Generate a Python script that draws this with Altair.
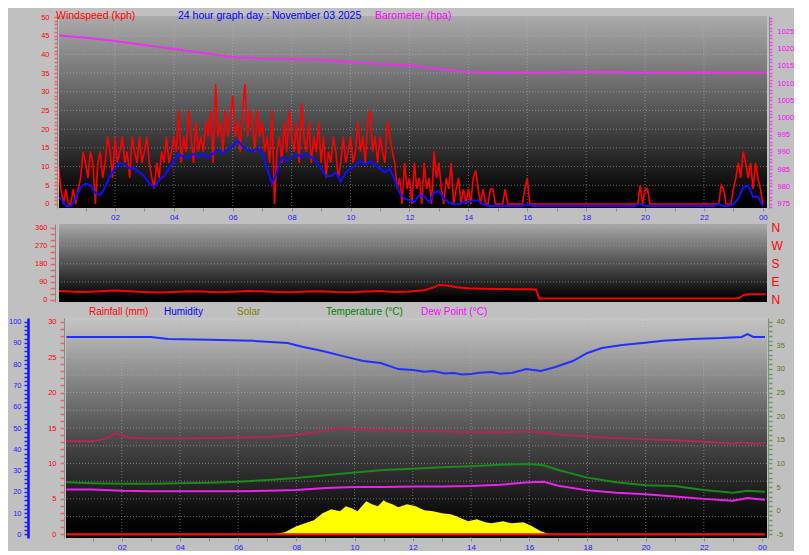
import altair as alt
import pandas as pd

FONT = "Liberation Sans"

# ---------------- data ----------------
# Wind gust (kph), 5-minute readings, one list per hour
gust_h00 = [14, 10, 4, 0, 4, 0, 0, 4, 0, 4, 7, 14]
gust_h01 = [11, 7, 14, 11, 0, 11, 14, 7, 11, 18, 14, 7]
gust_h02 = [18, 11, 14, 18, 11, 14, 7, 18, 14, 11, 18, 11]
gust_h03 = [14, 18, 11, 7, 4, 11, 7, 14, 11, 18, 11, 14]
gust_h04 = [18, 14, 25, 11, 18, 14, 25, 18, 11, 22, 14, 18]
gust_h05 = [14, 22, 18, 25, 11, 32, 18, 22, 14, 25, 18, 22]
gust_h06 = [29, 18, 22, 14, 25, 32, 18, 25, 22, 14, 25, 18]
gust_h07 = [22, 14, 18, 11, 25, 0, 14, 18, 11, 22, 14, 25]
gust_h08 = [18, 14, 22, 11, 27, 18, 14, 22, 11, 18, 14, 22]
gust_h09 = [11, 18, 7, 14, 11, 18, 14, 7, 11, 18, 11, 14]
gust_h10 = [18, 11, 14, 22, 14, 18, 11, 22, 25, 14, 18, 11]
gust_h11 = [18, 14, 11, 22, 18, 14, 11, 4, 7, 0, 11, 4]
gust_h12 = [7, 0, 11, 4, 7, 0, 11, 4, 7, 0, 14, 7]
gust_h13 = [11, 4, 0, 7, 4, 11, 0, 4, 7, 0, 4, 0]
gust_h14 = [4, 0, 7, 9, 4, 0, 4, 0, 0, 4, 4, 0]
gust_h15 = [0, 0, 0, 4, 0, 0, 0, 0, 0, 0, 0, 4]
gust_h16 = [7, 0, 0, 0, 0, 0, 0, 0, 0, 0, 0, 0]
gust_h17 = [0, 0, 0, 0, 0, 0, 0, 0, 0, 0, 0, 0]
gust_h18 = [0, 0, 0, 0, 0, 0, 0, 0, 0, 0, 0, 0]
gust_h19 = [0, 0, 0, 0, 0, 0, 0, 0, 0, 0, 5, 0]
gust_h20 = [4, 4, 0, 0, 0, 0, 0, 0, 0, 0, 0, 0]
gust_h21 = [0, 0, 0, 0, 0, 0, 0, 0, 0, 0, 0, 0]
gust_h22 = [0, 0, 0, 0, 0, 0, 0, 5, 4, 0, 0, 0]
gust_h23 = [4, 7, 11, 7, 14, 11, 7, 11, 4, 11, 7, 4]
gust_end = [0]

# Average wind speed (kph), 10-minute readings, one list per hour
avg_h00 = [2.5, 2, 0, 0, 2, 5]
avg_h01 = [6, 5.5, 3.5, 2.8, 5, 8]
avg_h02 = [10, 11.5, 11, 10, 10, 9]
avg_h03 = [8, 6, 5, 7, 8, 10]
avg_h04 = [12, 14, 13, 13, 14, 13]
avg_h05 = [14, 13, 14, 15, 14, 15]
avg_h06 = [16, 17.5, 16, 15, 14.5, 15.5]
avg_h07 = [14, 10, 6, 9, 13, 12]
avg_h08 = [13, 14, 13, 14, 13, 12]
avg_h09 = [10, 8, 8, 9, 6.5, 9]
avg_h10 = [10, 11, 12, 11, 12, 11]
avg_h11 = [10, 9, 10, 7, 3.5, 2]
avg_h12 = [1.5, 1, 3, 2.5, 1, 3.5]
avg_h13 = [4, 2, 1, 0.5, 0.5, 1]
avg_h14 = [1, 1.5, 1.5, 0.5, 0, 0]
avg_h15 = [0, 0, 0, 0, 0, 0]
avg_h16 = [0.5, 0, 0, 0, 0, 0]
avg_h17 = [0, 0, 0, 0, 0, 0]
avg_h18 = [0, 0, 0, 0, 0, 0]
avg_h19 = [0, 0, 0, 0, 0, 0.5]
avg_h20 = [0, 0, 0, 0, 0, 0]
avg_h21 = [0, 0, 0, 0, 0, 0]
avg_h22 = [0, 0, 0, 0.5, 0, 0]
avg_h23 = [0.5, 2, 5, 5.5, 2.5, 2.5]
avg_end = [0]

# Barometer (hPa)
baro_hours = [0.1, 1, 2, 3, 4, 5, 6, 7, 8, 9, 10, 11, 12, 12.5, 13, 13.5, 14, 15, 16, 17, 18, 19, 20, 21, 22, 23, 24.1]
baro_vals = [1023.8, 1023.1, 1022.2, 1021.0, 1019.9, 1018.7, 1017.5, 1017.1, 1017.0, 1016.7, 1016.1, 1015.5,
             1015.1, 1014.6, 1014.1, 1013.6, 1013.2, 1013.0, 1013.0, 1013.1, 1013.3, 1013.2, 1013.0, 1013.0,
             1013.1, 1013.0, 1013.0]

# Wind direction (degrees)
dir_hours = [0.1, 0.5, 1, 1.5, 2, 2.5, 3, 3.5, 4, 4.5, 5, 5.5, 6, 6.5, 7, 7.5, 8, 8.5, 9, 9.5, 10, 10.5, 11,
             11.5, 12, 12.5, 12.8, 13.0, 13.3, 13.6, 14, 14.5, 15, 15.5, 16, 16.3, 16.4, 17, 18, 19, 20, 21,
             22, 23, 23.2, 23.35, 23.5, 24.1]
dir_vals = [45, 42, 40, 43, 47, 44, 40, 37, 40, 44, 42, 38, 41, 45, 43, 40, 38, 42, 44, 40, 38, 42, 45,
            40, 42, 48, 62, 75, 72, 64, 58, 56, 55, 54, 53, 52, 8, 8, 7, 8, 8, 7, 8, 8, 10, 25, 28, 28]

# Humidity (%)
hum_hours = [0.1, 1, 2, 3, 3.6, 5, 6.5, 7.7, 8.2, 8.9, 9.6, 10.3, 10.9, 11.5, 12.0, 12.4, 12.7, 13.1, 13.4,
             13.7, 14.0, 14.3, 14.7, 15.0, 15.4, 15.9, 16.4, 16.9, 17.5, 18.0, 18.5, 19.2, 19.9, 20.6, 21.6,
             22.6, 23.3, 23.5, 23.7, 24.1]
hum_vals = [92.8, 92.8, 92.8, 92.8, 91.9, 91.5, 91.0, 90.0, 88.2, 86.2, 83.8, 81.5, 80.6, 77.7, 77.3, 76.5,
            76.8, 75.6, 75.9, 75.2, 75.4, 76.0, 76.3, 75.5, 75.9, 77.7, 76.8, 78.7, 81.5, 85.3, 87.6, 89.0,
            90.0, 91.0, 91.9, 92.3, 92.8, 94.2, 92.8, 92.8]

# Temperature, dew point and the extra (maroon) series (°C)
t_hours = [0.1, 1, 2, 3, 4, 5, 6, 7, 8, 9, 10, 11, 12, 13, 14, 15, 16, 16.5, 17, 18, 19, 20, 21, 22, 23, 23.5, 24.1]
temp_vals = [6.0, 5.8, 5.7, 5.7, 5.8, 5.9, 6.1, 6.5, 6.9, 7.5, 8.1, 8.6, 8.9, 9.2, 9.4, 9.7, 9.9, 9.6, 8.6,
             7.0, 6.0, 5.4, 5.2, 4.4, 3.8, 4.2, 4.0]
dew_vals = [4.5, 4.5, 4.2, 4.1, 4.1, 4.1, 4.1, 4.2, 4.4, 4.8, 5.0, 5.0, 5.1, 5.1, 5.2, 5.5, 6.0, 6.1, 5.3,
            4.3, 3.8, 3.5, 3.0, 2.5, 2.1, 2.7, 2.3]
maroon_hours = [0.1, 1, 1.5, 1.8, 2.2, 3, 4, 5, 6, 7, 8, 9, 9.5, 10, 11, 12, 13, 14, 15, 16, 17, 18, 19, 20,
                21, 22, 23, 23.3, 23.6, 24.1]
maroon_vals = [14.7, 14.7, 15.3, 16.4, 15.5, 15.3, 15.3, 15.4, 15.5, 15.6, 16.0, 16.9, 17.5, 17.3, 17.1, 16.9,
               16.8, 16.6, 16.6, 16.8, 16.1, 15.7, 15.4, 15.1, 14.9, 14.6, 14.2, 14.5, 14.2, 14.3]

# Solar (W/m²)
solar_hours = [0.1, 7.2, 7.6, 8.0, 8.3, 8.6, 8.9, 9.2, 9.5, 9.7, 9.9, 10.1, 10.4, 10.6, 10.8, 11.0, 11.1,
               11.3, 11.5, 11.8, 12.1, 12.4, 12.7, 13.0, 13.3, 13.5, 13.9, 14.2, 14.5, 14.7, 15.1, 15.4,
               15.8, 16.1, 16.4, 16.7, 24.1]
solar_vals = [0, 0, 10, 40, 55, 70, 105, 125, 115, 140, 130, 115, 165, 150, 140, 170, 160, 150, 135, 150,
              140, 120, 115, 105, 100, 90, 65, 75, 60, 55, 65, 55, 60, 40, 15, 0, 0]

# Rainfall (mm)
rain_hours = [0.1, 24.1]
rain_vals = [0, 0]

# Axis labels / grid values
hour_ticks = list(range(1, 25))
even_hours = list(range(2, 24, 2))
wind_ticks = list(range(0, 51))
baro_ticks = list(range(974, 1030))
dir_ticks = list(range(0, 361, 30))
compass_ticks = [0, 90, 180, 270, 360]
rain_ticks = list(range(0, 31))
hum_ticks = list(range(0, 101, 2))
temp_ticks = list(range(-5, 41))

# ---------------- build tables ----------------
gust_all = (gust_h00 + gust_h01 + gust_h02 + gust_h03 + gust_h04 + gust_h05 + gust_h06 + gust_h07 +
            gust_h08 + gust_h09 + gust_h10 + gust_h11 + gust_h12 + gust_h13 + gust_h14 + gust_h15 +
            gust_h16 + gust_h17 + gust_h18 + gust_h19 + gust_h20 + gust_h21 + gust_h22 + gust_h23 + gust_end)
avg_all = (avg_h00 + avg_h01 + avg_h02 + avg_h03 + avg_h04 + avg_h05 + avg_h06 + avg_h07 + avg_h08 +
           avg_h09 + avg_h10 + avg_h11 + avg_h12 + avg_h13 + avg_h14 + avg_h15 + avg_h16 + avg_h17 +
           avg_h18 + avg_h19 + avg_h20 + avg_h21 + avg_h22 + avg_h23 + avg_end)
gust_df = pd.DataFrame({"h": [i * 5 / 60 for i in range(len(gust_all))], "v": gust_all})
avg_df = pd.DataFrame({"h": [i * 10 / 60 for i in range(len(avg_all))], "v": avg_all})
baro_df = pd.DataFrame({"h": baro_hours, "v": baro_vals})
dir_df = pd.DataFrame({"h": dir_hours, "v": dir_vals})
hum_df = pd.DataFrame({"h": hum_hours, "v": hum_vals})
temp_df = pd.DataFrame({"h": t_hours, "v": temp_vals})
dew_df = pd.DataFrame({"h": t_hours, "v": dew_vals})
maroon_df = pd.DataFrame({"h": maroon_hours, "v": maroon_vals})
solar_df = pd.DataFrame({"h": solar_hours, "v": solar_vals})
rain_df = pd.DataFrame({"h": rain_hours, "v": rain_vals})
one = pd.DataFrame({"a": [0]})

W = 708
H_TOP, H_MID, H_BOT = 192, 78, 220

HOUR_EXPR = ("datum.value % 2 == 0 ? (datum.value == 24 ? '00' : (datum.value < 10 ? '0' + datum.value : "
             "'' + datum.value)) : ''")


def x_enc(domain, show_axis):
    if show_axis:
        ax = alt.Axis(values=hour_ticks, labelExpr=HOUR_EXPR, tickColor="#8c8c8c", tickSize=3, tickWidth=1,
                      domain=False, grid=False, labelColor="#1a1aff", labelFontSize=8, labelFont=FONT,
                      labelPadding=2, labelOverlap=False, labelFlush=False, title=None)
    else:
        ax = None
    return alt.X("h:Q", scale=alt.Scale(domain=domain, nice=False, zero=False), axis=ax)


def y_axis(values, every, color, tick_color, orient, offset, tick_size, pad, size=7.5, extra="", **kw):
    cond = f"datum.value % {every} == 0" + extra
    return alt.Axis(values=values, labelExpr=f"{cond} ? '' + datum.value : ''", orient=orient, offset=offset,
                    tickSize=tick_size, tickColor=tick_color, tickWidth=1.5, labelColor=color,
                    labelFontSize=size, labelFont=FONT, labelPadding=pad, grid=False, title=None,
                    labelOverlap=False, labelFlush=False, **kw)


def y_enc(domain, axis=None):
    return alt.Y("v:Q", scale=alt.Scale(domain=domain, nice=False, zero=False), axis=axis)


def background(w, h, top_color):
    grad = alt.Gradient(gradient="linear", x1=0, x2=0, y1=0, y2=1,
                        stops=[alt.GradientStop(color=top_color, offset=0),
                               alt.GradientStop(color="#4a4a4a", offset=0.55),
                               alt.GradientStop(color="#000000", offset=0.95),
                               alt.GradientStop(color="#000000", offset=1)])
    return alt.Chart(one).mark_rect(fill=grad).encode(
        x=alt.value(0), x2=alt.value(w), y=alt.value(0), y2=alt.value(h))


def text_label(txt, x, y, color, size, baseline="top"):
    return alt.Chart(pd.DataFrame({"t": [txt]})).mark_text(
        align="left", baseline=baseline, font=FONT, fontSize=size, color=color
    ).encode(x=alt.value(x), y=alt.value(y), text="t:N")


def hgrid(values, domain):
    return alt.Chart(pd.DataFrame({"v": values})).mark_rule(
        color="#b4b4b4", strokeDash=[1, 2], strokeWidth=1, opacity=0.55).encode(y=y_enc(domain))


def vgrid(x):
    return alt.Chart(pd.DataFrame({"h": even_hours})).mark_rule(
        color="#b4b4b4", strokeDash=[1, 2], strokeWidth=1, opacity=0.55).encode(x=x)


# invisible spacer that reserves the strip above the top panel for its titles
spacer = alt.Chart(one).mark_rule(strokeOpacity=0, opacity=0).encode(
    x=alt.value(0), y=alt.value(-8), y2=alt.value(0))

# ---------------- top panel: wind + barometer ----------------
X_TOP = x_enc([0.1, 24.14], True)
WIND_DOM = [-1.07, 50.27]
BARO_DOM = [973.75, 1029.44]

top = alt.layer(
    spacer,
    background(W, H_TOP, "#ababab"),
    hgrid(list(range(5, 51, 5)), WIND_DOM),
    vgrid(X_TOP),
    alt.Chart(gust_df).mark_line(color="#ff0000", strokeWidth=1.6, clip=True).encode(
        x=X_TOP, y=y_enc(WIND_DOM, y_axis(wind_ticks, 5, "#ff0000", "#ff5a5a", "left", 2, 3, 5))),
    alt.Chart(avg_df).mark_line(color="#1010ff", strokeWidth=2, clip=True, yOffset=2).encode(
        x=X_TOP, y=y_enc(WIND_DOM)),
    alt.Chart(baro_df).mark_line(color="#ee30ee", strokeWidth=2, clip=True).encode(
        x=X_TOP, y=y_enc(BARO_DOM, y_axis(baro_ticks, 5, "#ff00ff", "#ff40ff", "right", 2, 3, 5,
                                          extra=" && datum.value <= 1025"))),
    text_label("Windspeed (kph)", -3, -5.5, "#ff0000", 10.5),
    text_label("24 hour graph day : November 03 2025", 119, -5.5, "#0000ff", 10.5),
    text_label("Barometer (hpa)", 316, -5.5, "#ff00ff", 10.5),
).resolve_scale(y="independent").properties(width=W, height=H_TOP)

# ---------------- middle panel: wind direction ----------------
X_MID = x_enc([0.1, 24.14], False)
DIR_DOM = [-10, 378.4]
COMPASS_EXPR = ("datum.value == 90 ? 'E' : datum.value == 180 ? 'S' : datum.value == 270 ? 'W' : 'N'")

mid = alt.layer(
    background(W, H_MID, "#a8a8a8"),
    hgrid([90, 180, 270, 360], DIR_DOM),
    alt.Chart(dir_df).mark_line(color="#ff0000", strokeWidth=2, clip=True).encode(
        x=X_MID, y=y_enc(DIR_DOM, y_axis(dir_ticks, 90, "#ff0000", "#ff5a5a", "left", 4, 5, 3, size=7.5))),
    alt.Chart(dir_df).mark_line(opacity=0).encode(
        x=X_MID, y=y_enc(DIR_DOM, alt.Axis(values=compass_ticks, labelExpr=COMPASS_EXPR, orient="right",
                                           offset=0, ticks=False, domain=False, grid=False, title=None,
                                           labelColor="#ff0000", labelFontSize=12, labelFont=FONT,
                                           labelPadding=4, labelOverlap=False, labelFlush=False))),
).resolve_scale(y="independent").properties(width=W, height=H_MID)

# ---------------- bottom panel ----------------
X_BOT = x_enc([-0.155, 24.17], True)
RAIN_DOM = [-0.52, 30.52]
HUM_DOM = [-1.74, 101.74]
TEMP_DOM = [-5.78, 40.78]
SOLAR_DOM = [-18.5, 1081.5]

bot = alt.layer(
    background(W, H_BOT, "#c6c6c6").encode(x=alt.value(7)),
    hgrid([v / 2 for v in range(5, 61, 5)], RAIN_DOM),
    vgrid(X_BOT),
    alt.Chart(solar_df).mark_area(color="#ffff00", clip=True).encode(
        x=X_BOT, y=y_enc(SOLAR_DOM), y2=alt.value(H_BOT)),
    alt.Chart(rain_df).mark_line(color="#ff1010", strokeWidth=2.2, clip=True).encode(
        x=X_BOT, y=y_enc(RAIN_DOM, y_axis(rain_ticks, 5, "#ff0000", "#ff5a5a", "left", -5, 4, 4))),
    alt.Chart(maroon_df).mark_line(color="#b0285a", strokeWidth=2, clip=True).encode(
        x=X_BOT, y=y_enc(TEMP_DOM)),
    alt.Chart(temp_df).mark_line(color="#1a8a1a", strokeWidth=2, clip=True).encode(
        x=X_BOT, y=y_enc(TEMP_DOM, y_axis(temp_ticks, 5, "#4f7f10", "#5fa05f", "right", 1, 4, 4))),
    alt.Chart(dew_df).mark_line(color="#ee22ee", strokeWidth=2, clip=True).encode(
        x=X_BOT, y=y_enc(TEMP_DOM)),
    alt.Chart(hum_df).mark_line(color="#2030ff", strokeWidth=2, clip=True).encode(
        x=X_BOT, y=y_enc(HUM_DOM, y_axis(hum_ticks, 10, "#2020ff", "#2020ff", "left", 31, 4, 3,
                                         domain=True, domainColor="#1010ff", domainWidth=2.5))),
    text_label("Rainfall (mm)", 30, -6, "#ff0000", 10, "middle"),
    text_label("Humidity", 105, -6, "#0000ff", 10, "middle"),
    text_label("Solar", 178, -6, "#808000", 10, "middle"),
    text_label("Temperature (°C)", 267, -6, "#008000", 10, "middle"),
    text_label("Dew Point (°C)", 362, -6, "#ff00ff", 10, "middle"),
).resolve_scale(y="independent").properties(width=W, height=H_BOT)

chart = alt.vconcat(top, mid, bot, spacing=16, bounds="flush").properties(
    background="#c0c0c0", padding=0
).configure_view(stroke=None)

chart.save("out.html", embed_options={"renderer": "svg", "actions": False})
